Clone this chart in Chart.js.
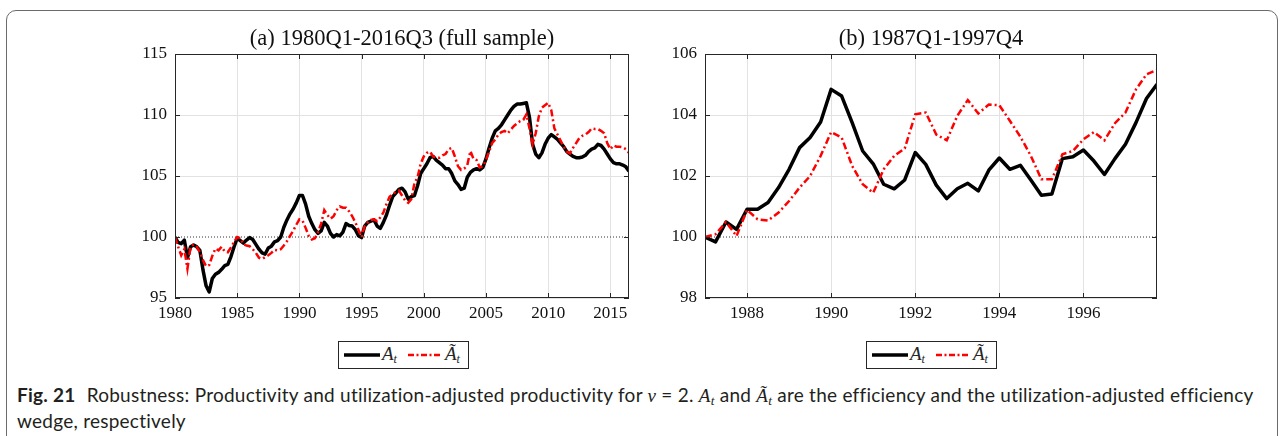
<!DOCTYPE html>
<html>
<head>
<meta charset="utf-8">
<title>Fig. 21 Robustness</title>
<script src="https://cdn.jsdelivr.net/npm/chart.js"></script>
<style>
  body { margin: 0; background: #fff; width: 1282px; height: 436px; overflow: hidden; position: relative; }
  .frame { position: absolute; left: 6px; top: 10px; width: 1270px; height: 470px; border: 1px solid #6b6b6b; border-radius: 10px; }
  canvas { position: absolute; }
  .legend { position: absolute; top: 341px; width: 129px; height: 26px; border: 1px solid #262626; background: #fff;
            font-family: 'Liberation Serif', serif; font-style: italic; font-size: 19px; color: #262626; }
  .legend svg { position: absolute; left: 0; top: 0; }
  .legend span { position: absolute; top: 1px; line-height: 22px; }
  .legend sub { font-size: 12px; vertical-align: -3px; line-height: 0; }
  .caption { position: absolute; left: 17px; top: 382px; font-family: Lato, 'Liberation Sans', sans-serif; font-size: 19px;
             letter-spacing: 0.25px; line-height: 26px; color: #231f20; white-space: nowrap; }
  .caption b { font-weight: bold; margin-right: 6px; }
  .m { font-family: 'Liberation Serif', serif; font-style: italic; line-height: 0; }
  .m sub { font-size: 0.7em; vertical-align: -3px; line-height: 0; }
</style>
</head>
<body>
<div class="frame"></div>
<canvas id="panelA" width="560" height="310" style="left:100px; top:20px"></canvas>
<canvas id="panelB" width="560" height="310" style="left:630px; top:20px"></canvas>

<div class="legend" style="left:338px">
  <svg width="129" height="26">
    <line x1="5" y1="13" x2="41" y2="13" stroke="#000" stroke-width="3.5"/>
    <line x1="69" y1="13" x2="102" y2="13" stroke="#ff0000" stroke-width="2.5" stroke-dasharray="6 2.5 2 2.5"/>
  </svg>
  <span style="left:43px">A<sub>t</sub></span>
  <span style="left:106px">Ã<sub>t</sub></span>
</div>
<div class="legend" style="left:866px">
  <svg width="129" height="26">
    <line x1="5" y1="13" x2="41" y2="13" stroke="#000" stroke-width="3.5"/>
    <line x1="69" y1="13" x2="102" y2="13" stroke="#ff0000" stroke-width="2.5" stroke-dasharray="6 2.5 2 2.5"/>
  </svg>
  <span style="left:43px">A<sub>t</sub></span>
  <span style="left:106px">Ã<sub>t</sub></span>
</div>

<div class="caption"><span><b>Fig. 21</b> Robustness: Productivity and utilization-adjusted productivity for <span class="m">ν</span> = 2. <span class="m">A<sub>t</sub></span> and <span class="m">Ã<sub>t</sub></span> are the efficiency and the utilization-adjusted efficiency</span><br><span>wedge, respectively</span></div>

<script>
// (a) 1980Q1-2016Q3, quarterly
const startA = 1980;
const effA = [
  100.0, 99.55, 99.45, 99.75, 98.3, 99.2, 99.35, 99.2, 98.9, 97.3,
  96.0, 95.5, 96.6, 96.95, 97.1, 97.35, 97.65, 97.75, 98.4, 99.2,
  99.9, 99.7, 99.5, 99.75, 99.95, 99.8, 99.4, 99.0, 98.7, 98.6,
  99.1, 99.25, 99.6, 99.7, 100.0, 100.8, 101.4, 101.9, 102.3, 102.8,
  103.4, 103.4, 102.7, 101.7, 101.1, 100.6, 100.3, 100.5, 101.2, 100.9,
  100.3, 100.0, 100.2, 100.1, 100.4, 101.1, 100.95, 100.9, 100.6, 100.1,
  99.95, 100.9, 101.2, 101.3, 101.4, 100.9, 100.7, 101.2, 101.8, 102.6,
  103.3, 103.6, 103.9, 104.0, 103.7, 103.1, 103.3, 103.4, 104.2, 105.2,
  105.6, 106.0, 106.5, 106.6, 106.3, 106.1, 105.9, 105.6, 105.6, 105.2,
  104.6, 104.3, 103.9, 104.0, 104.9, 105.3, 105.5, 105.6, 105.5, 105.7,
  106.4, 107.3, 108.1, 108.7, 108.9, 109.2, 109.6, 110.0, 110.4, 110.7,
  110.9, 110.9, 110.95, 111.0, 109.8, 107.6, 106.8, 106.5, 106.9, 107.6,
  108.1, 108.4, 108.2, 108.0, 107.7, 107.4, 107.0, 106.8, 106.6, 106.5,
  106.5, 106.55, 106.7, 107.0, 107.2, 107.3, 107.6, 107.5, 107.2, 106.8,
  106.4, 106.1, 106.0, 106.0, 105.9, 105.75, 105.4
];
const utilA = [
  100.0, 99.2, 98.5, 99.0, 97.4, 99.2, 99.4, 99.2, 98.75, 98.1,
  97.6, 97.7, 98.45, 99.05, 98.9, 99.2, 98.8, 98.75, 99.15, 99.6,
  100.0, 99.9, 99.4, 99.3, 99.25, 99.0, 98.7, 98.3, 98.2, 98.35,
  98.5, 98.7, 98.95, 98.9, 99.0, 99.3, 99.65, 100.1, 100.5, 101.0,
  101.45, 101.35, 100.75, 100.1, 99.8, 99.9, 100.4, 101.1, 102.2, 101.8,
  101.5, 101.7, 102.2, 102.5, 102.4, 102.4, 102.1, 101.7, 101.2, 100.6,
  100.0, 100.9, 101.2, 101.4, 101.45, 101.3, 101.6, 102.0, 102.7, 103.3,
  103.5, 103.7, 103.8, 103.4, 103.0, 102.8, 103.1, 104.4, 104.9, 106.0,
  106.6, 106.9, 107.0, 106.6, 106.5, 106.5, 106.7, 106.8, 107.2, 107.3,
  106.6, 105.8, 105.5, 105.6, 105.9, 107.05, 106.4, 106.3, 105.7, 105.8,
  106.3, 107.0, 107.7, 108.0, 108.4, 108.6, 108.7, 108.5, 108.8, 109.1,
  109.3, 109.5, 109.6, 110.05, 108.9, 107.6, 108.5, 109.9, 110.6, 110.8,
  111.0, 110.4, 108.9, 108.4, 107.9, 107.4, 107.0, 106.85, 107.3, 107.7,
  108.1, 108.3, 108.4, 108.6, 108.9, 108.85, 108.85, 108.7, 108.5, 107.7,
  107.2, 107.5, 107.4, 107.4, 107.35, 107.2, 106.9
];
const xTicksA = [1980, 1985, 1990, 1995, 2000, 2005, 2010, 2015];
const yTicksA = [95, 100, 105, 110, 115];

// (b) 1987Q1-1997Q4, quarterly
const startB = 1987;
const effB = [
  100.0, 99.84, 100.49, 100.25, 100.91, 100.91, 101.13, 101.62, 102.22, 102.93,
  103.26, 103.77, 104.84, 104.62, 103.75, 102.82, 102.40, 101.73, 101.58, 101.87,
  102.77, 102.38, 101.70, 101.26, 101.58, 101.76, 101.51, 102.19, 102.59, 102.22,
  102.35, 101.87, 101.37, 101.41, 102.57, 102.63, 102.85, 102.49, 102.05, 102.57,
  103.04, 103.75, 104.54, 105.01
];
const utilB = [
  100.0, 100.09, 100.49, 100.03, 100.89, 100.58, 100.54, 100.80, 101.18, 101.62,
  102.0, 102.66, 103.44, 103.26, 102.33, 101.73, 101.45, 102.22, 102.66, 102.90,
  104.02, 104.08, 103.36, 103.17, 103.97, 104.49, 104.05, 104.34, 104.32, 103.81,
  103.29, 102.66, 101.89, 101.89, 102.71, 102.82, 103.20, 103.44, 103.17, 103.73,
  104.08, 104.84, 105.33, 105.48
];
const xTicksB = [1988, 1990, 1992, 1994, 1996];
const yTicksB = [98, 100, 102, 104, 106];

const baseLevel = 100;

const serif = 'Liberation Serif';
const gridColor = '#e2e2e2';
const axisColor = '#262626';

const toPoints = (start, vals) => vals.map((v, i) => ({ x: start + i / 4, y: v }));

// MATLAB-style box with inward ticks on all four sides
const boxPlugin = {
  id: 'matlabBox',
  afterDatasetsDraw(chart) {
    const { ctx, chartArea: a, scales } = chart;
    const len = 5;
    ctx.save();
    ctx.strokeStyle = axisColor;
    ctx.lineWidth = 1;
    ctx.strokeRect(a.left + 0.5, a.top + 0.5, a.right - a.left - 1, a.bottom - a.top - 1);
    ctx.beginPath();
    scales.x.ticks.forEach(t => {
      const px = Math.round(scales.x.getPixelForValue(t.value)) + 0.5;
      ctx.moveTo(px, a.bottom); ctx.lineTo(px, a.bottom - len);
      ctx.moveTo(px, a.top); ctx.lineTo(px, a.top + len);
    });
    scales.y.ticks.forEach(t => {
      const py = Math.round(scales.y.getPixelForValue(t.value)) + 0.5;
      ctx.moveTo(a.left, py); ctx.lineTo(a.left + len, py);
      ctx.moveTo(a.right, py); ctx.lineTo(a.right - len, py);
    });
    ctx.stroke();
    ctx.restore();
  }
};

function makePanel(id, title, start, eff, util, xTicks, yTicks, xMax, rightPad) {
  const xMin = start;
  new Chart(document.getElementById(id), {
    type: 'line',
    data: {
      datasets: [
        {
          label: 'At',
          data: toPoints(start, eff),
          borderColor: '#000',
          borderWidth: 3.5,
          pointRadius: 0,
          tension: 0,
          borderJoinStyle: 'round',
          order: 2
        },
        {
          label: 'Ãt',
          data: toPoints(start, util),
          borderColor: '#ff0000',
          borderWidth: 2.5,
          borderDash: [7, 3, 2, 3],
          pointRadius: 0,
          tension: 0,
          order: 1
        },
        {
          label: 'base',
          data: [{ x: xMin, y: baseLevel }, { x: xMax, y: baseLevel }],
          borderColor: '#333',
          borderWidth: 1,
          borderDash: [1, 2],
          pointRadius: 0,
          order: 3
        }
      ]
    },
    options: {
      responsive: false,
      animation: false,
      layout: { padding: { left: 0, right: rightPad, top: 0, bottom: 0 } },
      plugins: {
        legend: { display: false },
        tooltip: { enabled: false },
        title: {
          display: true,
          text: title,
          fullSize: false,
          color: '#111',
          font: { family: serif, size: 22.5, weight: 'normal' },
          padding: { top: 6, bottom: 1 }
        }
      },
      scales: {
        x: {
          type: 'linear',
          min: xMin,
          max: xMax,
          afterBuildTicks: s => { s.ticks = xTicks.map(v => ({ value: v })); },
          afterFit: s => { s.height = 32; },
          grid: { color: gridColor, drawTicks: false },
          border: { display: false },
          ticks: { color: '#111', font: { family: serif, size: 17 }, padding: 5, maxRotation: 0,
                   callback: v => String(v) }
        },
        y: {
          min: yTicks[0],
          max: yTicks[yTicks.length - 1],
          afterBuildTicks: s => { s.ticks = yTicks.map(v => ({ value: v })); },
          afterFit: s => { s.width = 75; },
          grid: { color: c => (c.tick && c.tick.value === baseLevel ? 'rgba(0,0,0,0)' : gridColor), drawTicks: false },
          border: { display: false },
          ticks: { color: '#111', font: { family: serif, size: 17 }, padding: 8,
                   callback: v => String(v) }
        }
      }
    },
    plugins: [boxPlugin]
  });
}

makePanel('panelA', '(a) 1980Q1-2016Q3 (full sample)', startA, effA, utilA, xTicksA, yTicksA, 2016.5, 31);
makePanel('panelB', '(b) 1987Q1-1997Q4', startB, effB, utilB, xTicksB, yTicksB, 1997.75, 33);
</script>
</body>
</html>
